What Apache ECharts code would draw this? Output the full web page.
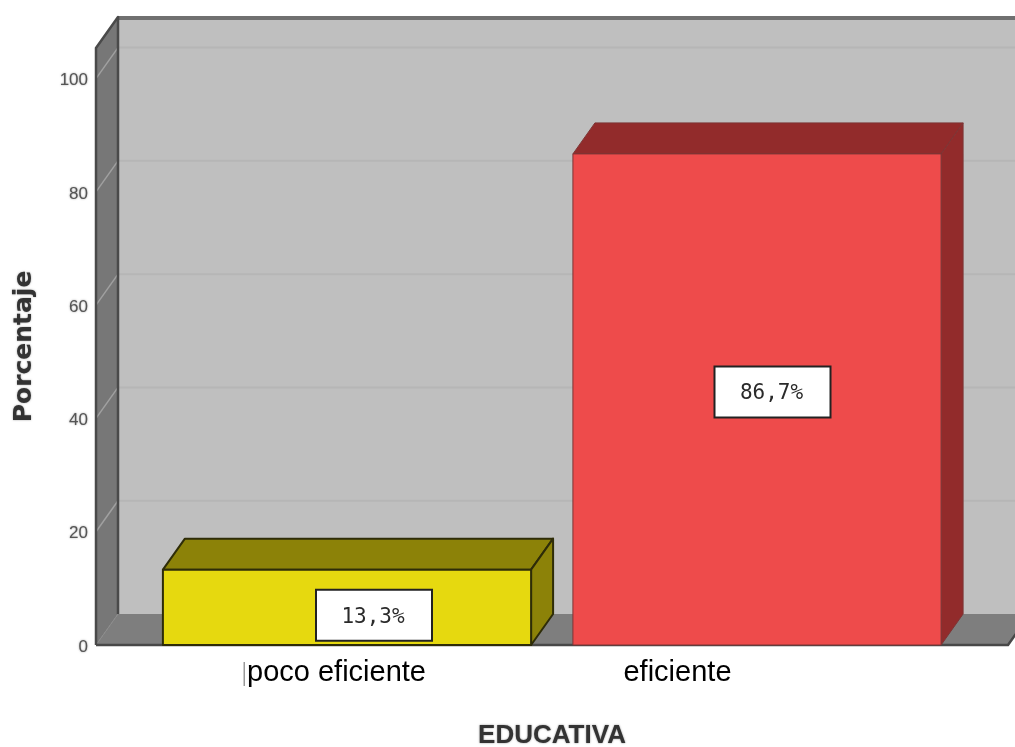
<!DOCTYPE html>
<html><head><meta charset="utf-8">
<style>html,body{margin:0;padding:0;background:#fff}#c{width:1015px;height:747px}</style>
<script src="https://cdn.jsdelivr.net/npm/echarts@6/dist/echarts.min.js"></script>
</head><body><div id="c"></div>
<script>
const categories = ['poco eficiente', 'eficiente'];
const percentages = [13.3, 86.7];
const valueLabels = ['13,3%', '86,7%'];
const yTicks = [0, 20, 40, 60, 80, 100];
const xTitle = 'EDUCATIVA';
const yTitle = 'Porcentaje';

const frontColors = ['#e6d90f', '#ee4b4b'];
const shadeColors = ['#8c8208', '#922b2b'];
const edgeColors = ['#2e2c08', '#7d3535'];
const boxShift = [[27, 8], [15.5, -7.5]];
const DX = 22, DY = 31, SIDE = 251;

const chart = echarts.init(document.getElementById('c'), null, {renderer: 'canvas'});

function renderWalls(params, api) {
  const a = api.coord([0, 0]), b = api.coord([1, 0]), top = api.coord([0, 105.4]);
  const L = a[0] - SIDE, R = b[0] + SIDE, Y0 = a[1], YT = top[1];
  const kids = [];
  kids.push({type: 'rect', shape: {x: L + DX, y: YT - DY, width: R - L, height: Y0 - YT}, style: {fill: '#bfbfbf'}});
  yTicks.slice(1).forEach(v => {
    const y = api.coord([0, v])[1];
    kids.push({type: 'line', shape: {x1: L + DX, y1: y - DY, x2: R + DX, y2: y - DY}, style: {stroke: '#b6b6b6', lineWidth: 2}});
  });
  kids.push({type: 'rect', shape: {x: L + DX, y: YT - DY - 1, width: R - L, height: 4}, style: {fill: '#707070'}});
  kids.push({type: 'polygon', shape: {points: [[L, Y0], [L + DX, Y0 - DY], [R + DX, Y0 - DY], [R, Y0]]}, style: {fill: '#7e7e7e'}});
  kids.push({type: 'polygon', shape: {points: [[L, Y0], [L + DX, Y0 - DY], [L + DX, YT - DY], [L, YT]]}, style: {fill: '#777777'}});
  yTicks.slice(1).forEach(v => {
    const y = api.coord([0, v])[1];
    kids.push({type: 'line', shape: {x1: L, y1: y, x2: L + DX, y2: y - DY}, style: {stroke: '#a0a0a0', lineWidth: 1.5}});
  });
  kids.push({type: 'line', shape: {x1: L, y1: Y0, x2: L + DX, y2: Y0 - DY}, style: {stroke: '#8a8a8a', lineWidth: 1}});
  kids.push({type: 'polyline', shape: {points: [[L, Y0], [L, YT], [L + DX, YT - DY], [L + DX, Y0 - DY]]}, style: {fill: 'none', stroke: '#4a4a4a', lineWidth: 2.5, lineJoin: 'round'}});
  kids.push({type: 'polyline', shape: {points: [[L, Y0], [R, Y0], [R + DX, Y0 - DY]]}, style: {fill: 'none', stroke: '#484848', lineWidth: 2.5, lineJoin: 'round'}});
  return {type: 'group', children: kids};
}

function renderBar(params, api) {
  const i = params.dataIndex;
  const p = api.coord([api.value(0), api.value(1)]);
  const base = api.coord([api.value(0), 0]);
  const w = api.size([1, 0])[0] * 0.898;
  const l = p[0] - w / 2, r = p[0] + w / 2, t = p[1], b = base[1];
  const st = (fill) => ({fill, stroke: edgeColors[i], lineWidth: i === 0 ? 2 : 1, lineJoin: 'round'});
  return {type: 'group', children: [
    {type: 'polygon', shape: {points: [[l, t], [l + DX, t - DY], [r + DX, t - DY], [r, t]]}, style: st(shadeColors[i])},
    {type: 'polygon', shape: {points: [[r, t], [r + DX, t - DY], [r + DX, b - DY], [r, b]]}, style: st(shadeColors[i])},
    {type: 'rect', shape: {x: l, y: t, width: w, height: b - t}, style: st(frontColors[i])}
  ]};
}

function renderBox(params, api) {
  const i = params.dataIndex;
  const p = api.coord([api.value(0), api.value(1)]);
  const base = api.coord([api.value(0), 0]);
  const cx = p[0] + boxShift[i][0], cy = (p[1] + base[1]) / 2 + boxShift[i][1];
  return {type: 'group', children: [
    {type: 'rect', shape: {x: cx - 58, y: cy - 25.5, width: 116, height: 51}, style: {fill: '#fff', stroke: '#222', lineWidth: 2}},
    {type: 'text', style: {text: valueLabels[i], x: cx - 1, y: cy + 2, align: 'center', verticalAlign: 'middle',
      fontFamily: 'DejaVu Sans Mono', fontSize: 21, fill: '#2a2a2a'}}
  ]};
}

const barData = categories.map((c, i) => [i, percentages[i]]);

chart.setOption({
  animation: false,
  backgroundColor: '#fff',
  grid: {left: 142, right: 53, top: 48, bottom: 102, containLabel: false, outerBoundsMode: 'none'},
  xAxis: {
    type: 'category', data: categories,
    name: xTitle, nameLocation: 'middle', nameGap: 78,
    nameTextStyle: {fontFamily: 'Liberation Sans', fontWeight: 'bold', fontSize: 26, color: '#333', textShadowColor: 'rgba(60,60,60,0.6)', textShadowBlur: 2},
    axisLine: {show: false}, axisTick: {show: false},
    axisLabel: {
      margin: 13, interval: 0,
      formatter: (v, i) => `{${i === 0 ? 'a' : 'b'}|${v}}`,
      rich: {
        a: {fontFamily: 'Liberation Sans', fontSize: 29, color: '#000', padding: [0, 21, 0, 0]},
        b: {fontFamily: 'Liberation Sans', fontSize: 29, color: '#000', padding: [0, 159, 0, 0]}
      }
    }
  },
  yAxis: {
    type: 'value', min: 0, max: 105.4, interval: 20, offset: 46,
    name: yTitle, nameLocation: 'middle', nameGap: 59,
    nameTextStyle: {fontFamily: 'DejaVu Sans', fontWeight: 'bold', fontSize: 25, color: '#333', textShadowColor: 'rgba(60,60,60,0.5)', textShadowBlur: 2},
    axisLine: {show: false}, axisTick: {show: false}, splitLine: {show: false},
    axisLabel: {
      margin: 8, showMaxLabel: false,
      formatter: '{t|{value}}',
      rich: {t: {padding: [4, 0, 0, 0], fontFamily: 'Liberation Sans', fontSize: 17, color: '#555', textShadowColor: 'rgba(90,90,90,0.6)', textShadowBlur: 2}}
    }
  },
  series: [
    {type: 'custom', data: [[0, 0]], renderItem: renderWalls, z: 1, silent: true, clip: false},
    {type: 'custom', data: barData, renderItem: renderBar, encode: {x: 0, y: 1}, z: 2, clip: false},
    {type: 'custom', data: barData, renderItem: renderBox, encode: {x: 0, y: 1}, z: 3, clip: false}
  ],
  graphic: [{type: 'rect', shape: {x: 243.5, y: 662, width: 1.5, height: 24}, style: {fill: '#999'}}]
});
</script></body></html>
